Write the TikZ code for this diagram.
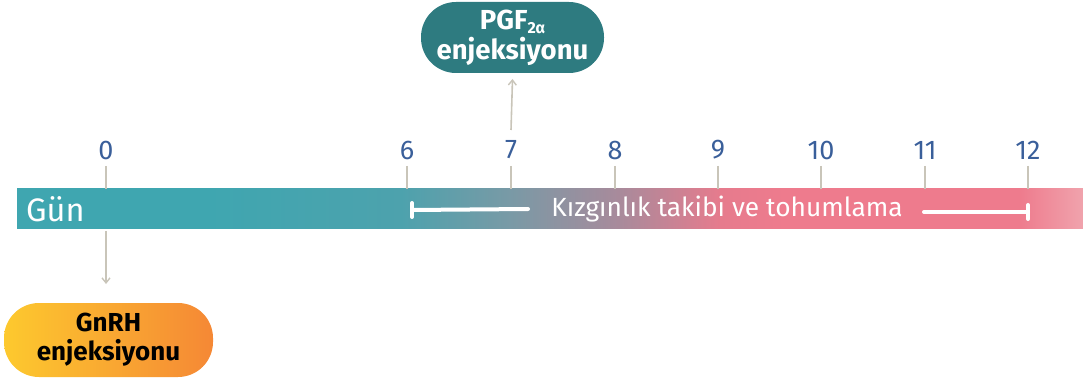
\documentclass[tikz,border=0pt]{standalone}
\usepackage{fontspec}
\setmainfont{Fira Sans}
\usetikzlibrary{arrows.meta}

\definecolor{tealA}{HTML}{3FA6B0}
\definecolor{tealB}{HTML}{4DA2AD}
\definecolor{midA}{HTML}{789AA6}
\definecolor{midB}{HTML}{A98A9B}
\definecolor{pinkA}{HTML}{E67B8D}
\definecolor{pinkB}{HTML}{EE7B8D}
\definecolor{pinkC}{HTML}{F0A3AD}
\definecolor{tickgray}{HTML}{C9C5B9}
\definecolor{daynum}{HTML}{3A5F9A}
\definecolor{pgfbox}{HTML}{2E7B80}
\definecolor{gnyellow}{HTML}{FDC92E}
\definecolor{gnorange}{HTML}{F58835}

% path maps onto 25bp..75bp of the shading
\pgfdeclarehorizontalshading{barshade}{100bp}{%
  color(0bp)=(tealA); color(25bp)=(tealA); color(34bp)=(tealA);
  color(43bp)=(tealB); color(48bp)=(midA); color(53.3bp)=(midB);
  color(58bp)=(pinkA); color(61bp)=(pinkB); color(72bp)=(pinkB);
  color(75bp)=(pinkC); color(100bp)=(pinkC)}

\tikzset{
  tick/.style={draw=tickgray, line width=2pt},
  daylabel/.style={text=daynum, font=\fontsize{27}{29}\selectfont, inner sep=0pt},
  conn/.style={draw=tickgray, line width=1.6pt, -{Straight Barb[length=5pt,width=8pt,line width=1.4pt]}},
  span/.style={draw=white, line width=4pt, line cap=round},
  pill/.style={rounded corners=35pt, minimum width=183pt, minimum height=71pt, align=center,
    font=\bfseries\fontsize{27.5}{30}\selectfont, inner sep=0pt}
}

\begin{document}
\begin{tikzpicture}[x=1pt, y=-1pt]
  \useasboundingbox (0,0) rectangle (1083,379);

  % timeline bar
  \path[shading=barshade] (17,189) rectangle (1083,229);
  \node[anchor=west, text=white, font=\fontsize{32.5}{34}\selectfont, inner sep=0pt] (gun) at (26,209) {Gün};

  % day ticks and numbers
  \foreach \d/\x in {0/106, 6/407, 7/511, 8/615, 9/718, 10/821, 11/925, 12/1028} {
    \draw[tick] (\x,166) -- (\x,189);
    \node[daylabel] (d\d) at (\x,150) {\d};
  }

  % observation period
  \node[text=white, font=\fontsize{26.3}{28}\selectfont, inner sep=0pt] (kiz) at (727,209) {Kızgınlık takibi ve tohumlama};
  \coordinate (sL) at (412,210);
  \coordinate (sR) at (1028,212);
  \draw[span] (sL) -- (kiz.west -| 528,0) ;
  \draw[span] (sL |- 0,203) -- (sL |- 0,217);
  \draw[span] (924,212) -- (sR);
  \draw[span] (sR |- 0,205) -- (sR |- 0,219);

  % injections
  \node[pill, fill=pgfbox, text=white] (pgf) at (512.5,37.5) {PGF\raisebox{-4pt}{\fontsize{16}{16}\selectfont 2α}\\enjeksiyonu};
  \node[pill, left color=gnyellow, right color=gnorange, text=black, minimum width=209pt, minimum height=74pt,
    font=\bfseries\fontsize{26}{29}\selectfont] (gnrh) at (108.5,340) {GnRH\\enjeksiyonu};

  \coordinate (up) at (511,130);
  \coordinate (down) at (106,231);
  \draw[conn] (up) -- (pgf.south |- 0,79);
  \draw[conn] (down) -- (down |- 0,284);
\end{tikzpicture}
\end{document}
